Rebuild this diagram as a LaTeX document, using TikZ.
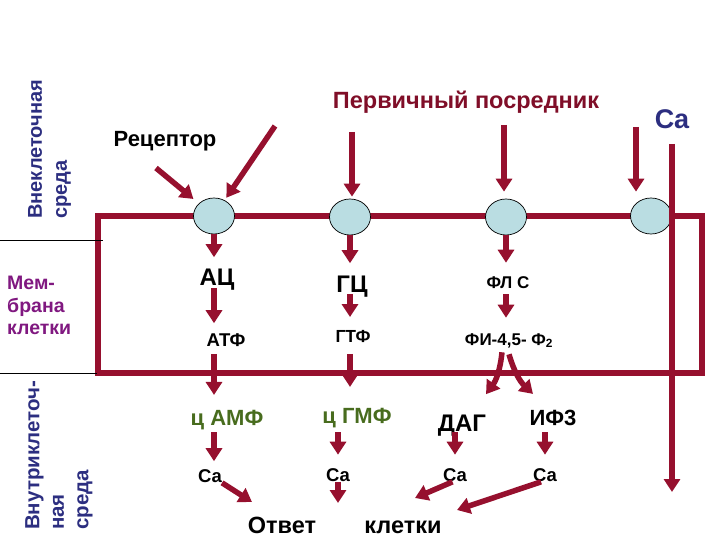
\documentclass[tikz,border=0pt]{standalone}
\usepackage{fontspec}
\setmainfont{Liberation Sans}
\usetikzlibrary{arrows.meta,shapes.geometric}
\definecolor{rosso}{RGB}{150,16,46}
\definecolor{rossoscuro}{RGB}{128,14,40}
\definecolor{celeste}{RGB}{186,221,226}
\definecolor{blu}{RGB}{44,46,128}
\definecolor{verde}{RGB}{72,108,30}
\definecolor{viola}{RGB}{128,24,128}
\tikzset{
  freccia/.style={draw=rosso, line width=5.5bp, -{Triangle[length=13bp,width=16bp]}},
  recettore/.style={ellipse, draw=black, line width=0.7bp, fill=celeste,
    minimum width=41bp, minimum height=36bp, inner sep=0pt},
  lbl/.style={inner sep=0pt, text depth=0pt, text height=0.716*#1bp,
    font=\bfseries\fontsize{#1bp}{#1bp}\selectfont},
  lato/.style={inner sep=0pt, align=left},
}
\begin{document}
\begin{tikzpicture}[x=1bp, y=-1bp]
    \useasboundingbox (0,0) rectangle (720,540);
    % Membrana
    \draw[rosso, line width=5.5bp] (98,216) rectangle (702,373);
    \draw[line width=1bp] (0,241) -- (103,241);
    \draw[line width=1bp] (0,373) -- (97,373);
    % Recettori
    \node[recettore] (r1) at (214,216) {};
    \node[recettore] (r2) at (350,217) {};
    \node[recettore] (r3) at (506,217) {};
    \node[recettore] (r4) at (651,216) {};
    % Scritte a sinistra
    \node[lato, text=blu, rotate=90, anchor=north west,
        font=\bfseries\fontsize{20bp}{25bp}\selectfont] (extra) at (28,219) {Внеклеточная\\среда};
    \node[lato, text=viola, anchor=north west,
        font=\bfseries\fontsize{19.5bp}{22.5bp}\selectfont] (memb) at (7,276) {Мем-\\брана\\клетки};
    \node[lato, text=blu, rotate=90, anchor=north west,
        font=\bfseries\fontsize{20.5bp}{24.5bp}\selectfont] (intra) at (25,530) {Внутриклеточ-\\ная\\среда};
    % Etichette
    \node[lbl=22] (rcp) at (165,139) {Рецептор};
    \node[lbl=23.5, text=rossoscuro] (prim) at (466,100) {Первичный посредник};
    \node[lbl=27, text=blu] (ca) at (672,119) {Ca};
    \node[lbl=24] (ac) at (217,277) {АЦ};
    \node[lbl=18.5] (atf) at (226,340) {АТФ};
    \node[lbl=24] (gc) at (352,284) {ГЦ};
    \node[lbl=17.5] (gtf) at (353,336) {ГТФ};
    \node[lbl=17] (flc) at (508,282) {ФЛ С};
    \node[lbl=17] (fi) at (509,339) {ФИ-4,5- Ф\textsubscript{2}};
    \node[lbl=22, text=verde] (camp) at (227,418) {ц АМФ};
    \node[lbl=22, text=verde] (cgmp) at (357,416) {ц ГМФ};
    \node[lbl=24] (dag) at (462,423) {ДАГ};
    \node[lbl=22] (if3) at (553,418) {ИФ3};
    \node[lbl=18.5] (ca1) at (210,476) {Ca};
    \node[lbl=18.5] (ca2) at (338,475) {Ca};
    \node[lbl=18.5] (ca3) at (455,475) {Ca};
    \node[lbl=18.5] (ca4) at (545,475) {Ca};
    \node[lbl=23.5] (otv) at (282,525) {Ответ};
    \node[lbl=23.5] (kl) at (403,525) {клетки};
    % Punti liberi
    \coordinate (p1) at (156,168);
    \coordinate (p2) at (275,126);
    \coordinate (p3) at (352,132);
    \coordinate (p4) at (504,125);
    \coordinate (p5) at (636,127);
    \coordinate (catop) at (672,144);
    \coordinate (cabot) at (672,492);
    \coordinate (t1) at (252,502);
    \coordinate (t2) at (338,503);
    \coordinate (t3) at (415,498);
    \coordinate (t4) at (457,510);
    % Primo messaggero
    \draw[freccia, shorten >=7bp] (p1) -- (r1);
    \draw[freccia, shorten >=3bp] (p2) -- (r1);
    \draw[freccia, shorten >=2bp] (p3) -- (p3 |- r2.north);
    \draw[freccia, shorten >=7bp] (p4) -- (p4 |- r3.north);
    \draw[freccia, shorten >=6bp] (p5) -- (p5 |- r4.north);
    \draw[freccia] (catop) -- (cabot);
    % Via AMP
    \draw[freccia, shorten >=11bp] (r1.south) -- (r1.south |- ac.north);
    \draw[freccia, shorten <=2bp, shorten >=10bp] (r1.south |- ac.south) -- (r1.south |- atf.north);
    \draw[freccia, shorten <=7bp, shorten >=15bp] (r1.south |- atf.south) -- (r1.south |- camp.north);
    \draw[freccia, shorten <=6bp, shorten >=8bp] (r1.south |- camp.south) -- (r1.south |- ca1.north);
    % Via GMP
    \draw[freccia, shorten >=12bp] (r2.south) -- (r2.south |- gc.north);
    \draw[freccia, shorten <=1.5bp, shorten >=12.5bp] (r2.south |- gc.south) -- (r2.south |- gtf.north);
    \draw[freccia, shorten <=11.5bp, shorten >=21bp] (r2.south |- gtf.south) -- (r2.south |- cgmp.north);
    \draw[freccia, shorten <=8bp, shorten >=13.5bp] (ca2.north |- cgmp.south) -- (ca2.north);
    % Via fosfolipasi
    \draw[freccia, shorten >=13bp] (r3.south) -- (r3.south |- flc.north);
    \draw[freccia, shorten <=6bp, shorten >=15bp] (r3.south |- flc.south) -- (r3.south |- fi.north);
    \draw[freccia] ([xshift=-7bp,yshift=-7bp]fi.south) to[bend left=15] ([xshift=24bp,yshift=20bp]dag.north);
    \draw[freccia] ([yshift=-9bp]fi.south) to[bend right=15] ([xshift=-20bp,yshift=16bp]if3.north);
    \draw[freccia, shorten <=0.5bp, shorten >=13.5bp] (ca3.north |- dag.south) -- (ca3.north);
    \draw[freccia, shorten <=6bp, shorten >=13.5bp] (ca4.north |- if3.south) -- (ca4.north);
    % Risposta
    \draw[freccia] (ca1.south east) -- (t1);
    \draw[freccia] (ca2.south) -- (t2);
    \draw[freccia] (ca3.250) -- (t3);
    \draw[freccia] (ca4.240) -- (t4);
\end{tikzpicture}
\end{document}
